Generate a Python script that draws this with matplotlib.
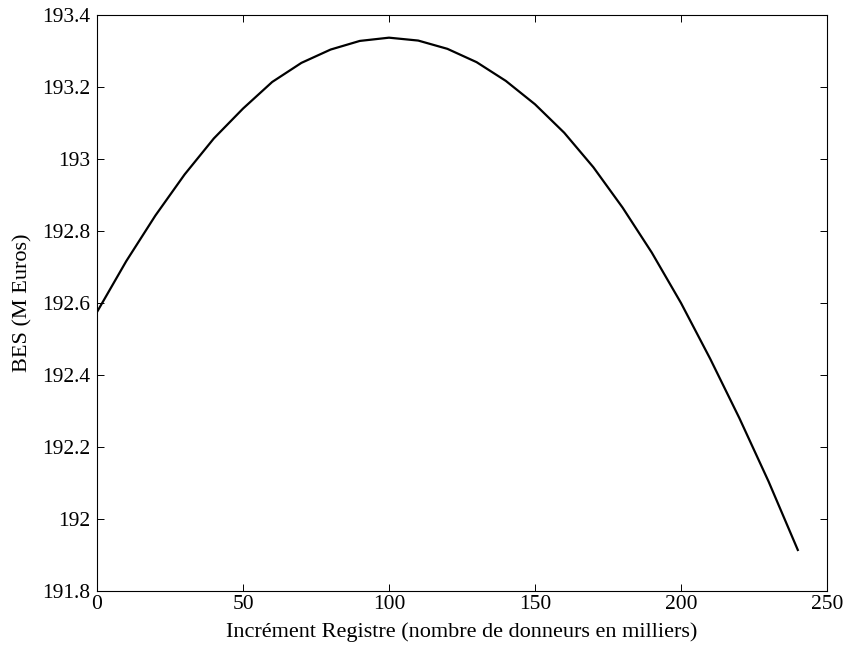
import numpy as np
import matplotlib
matplotlib.use('Agg')
import matplotlib.pyplot as plt

plt.rcParams['font.family'] = ['Liberation Serif', 'DejaVu Serif']

# increment du registre (milliers de donneurs) et BES (M Euros)
increment = [0, 10, 20, 30, 40, 50, 60, 70, 80, 90, 100, 110, 120,
             130, 140, 150, 160, 170, 180, 190, 200, 210, 220, 230, 240]
bes = [192.575, 192.716, 192.843, 192.957, 193.057, 193.140, 193.214,
       193.267, 193.304, 193.328, 193.337, 193.329, 193.306, 193.269,
       193.217, 193.152, 193.073, 192.977, 192.865, 192.740, 192.600,
       192.445, 192.280, 192.104, 191.914]

xticks = [0, 50, 100, 150, 200, 250]
yticks = [191.8, 192, 192.2, 192.4, 192.6, 192.8, 193, 193.2, 193.4]
ytick_labels = ['191.8', '192', '192.2', '192.4', '192.6', '192.8', '193', '193.2', '193.4']

fig = plt.figure(figsize=(8.48, 6.47), dpi=100)
ax = fig.add_axes([97/848, 1-591/647, 730/848, 576/647])

ax.plot(increment, bes, color='k', linewidth=1.6)

ax.set_xlim(0, 250)
ax.set_ylim(191.8, 193.4)
ax.set_xticks(xticks)
ax.set_yticks(yticks)
ax.set_yticklabels(ytick_labels)
ax.tick_params(direction='in', length=5, width=0.7, top=True, right=True,
               labelsize=15.5)
ax.tick_params(axis='x', pad=3)
ax.tick_params(axis='y', pad=5)
for s in ax.spines.values():
    s.set_linewidth(0.8)

ax.set_xlabel('Incrément Registre (nombre de donneurs en milliers)', fontsize=16, labelpad=6)
ax.set_ylabel('BES (M Euros)', fontsize=16, labelpad=7)

fig.savefig('out.png', dpi=100)
plt.close(fig)
